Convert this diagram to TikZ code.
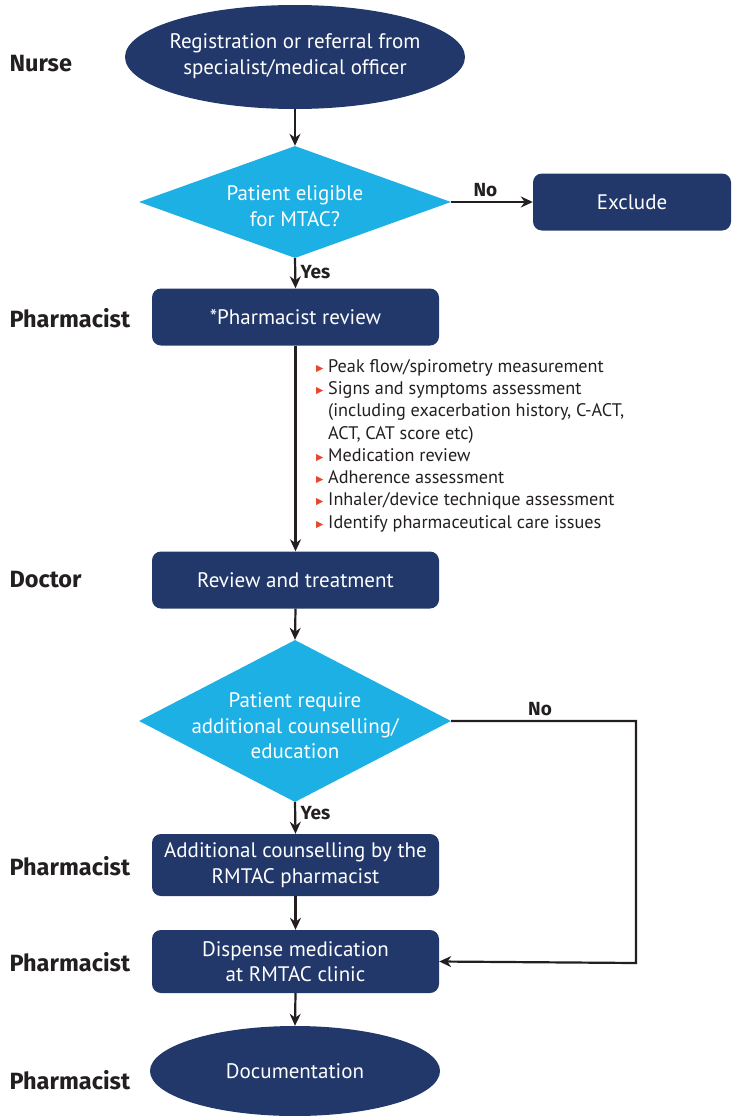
\documentclass[tikz,border=0pt]{standalone}
\usepackage{fontspec}
\usetikzlibrary{shapes.geometric,arrows.meta}
\setmainfont{PT Sans}
\newfontfamily\boxfont{PT Sans}
\newfontfamily\rolefont{Fira Sans}[BoldFont={Fira Sans Bold}]
\newfontfamily\symfont{DejaVu Sans}
\definecolor{navy}{HTML}{22386B}
\definecolor{cyanfill}{HTML}{1CB0E4}
\definecolor{bulred}{HTML}{E8452C}
\definecolor{ink}{HTML}{231F20}
\newcommand\bul{\makebox[12pt][l]{\raisebox{1pt}{\textcolor{bulred}{\symfont\fontsize{9.5}{9.5}\selectfont ▶}}}}
\newcommand\bulsp{\hspace*{12pt}}
\tikzset{
  procbox/.style={draw=none,fill=navy,rounded corners=9pt,text=white,
    minimum width=287pt,minimum height=57pt,align=center,inner sep=0pt,
    font=\boxfont\fontsize{21}{25.5}\selectfont},
  termbox/.style={ellipse,fill=navy,inner sep=0pt},
  decbox/.style={diamond,fill=cyanfill,inner sep=0pt},
  intext/.style={text=white,align=center,inner sep=0pt,font=\boxfont\fontsize{21}{25.5}\selectfont},
  role/.style={anchor=west,font=\rolefont\bfseries\fontsize{23.5}{26}\selectfont,text=ink},
  flow/.style={draw=ink,line width=2.2pt,-{Stealth[length=12pt,width=11pt]}},
  yesno/.style={font=\rolefont\bfseries\fontsize{19}{22}\selectfont,text=ink},
}
\begin{document}
\begin{tikzpicture}[x=1pt,y=-1pt]
\useasboundingbox (0,0) rectangle (731,1116);
% nodes
\node[termbox,minimum width=340pt,minimum height=104pt] (start) at (295,57) {};
\node[intext] (startt) at (295,56) {Registration or referral from\\specialist/medical officer};
\node[decbox,minimum width=312pt,minimum height=112pt] (d1) at (295,202) {};
\node[intext] (d1t) at (295,206) {Patient eligible\\for MTAC?};
\node[procbox,minimum width=198pt] (excl) at (632,202) {Exclude};
\node[procbox] (prev) at (295.5,317) {*Pharmacist review};
\node[procbox] (rev) at (295.5,580) {Review and treatment};
\node[decbox,minimum width=312pt,minimum height=162pt] (d2) at (295,721) {};
\node[intext] (d2t) at (295,726) {Patient require\\additional counselling/\\education};
\node[procbox,minimum height=62pt] (couns) at (295.5,865) {Additional counselling by the\\RMTAC pharmacist};
\node[procbox,minimum height=63pt] (disp) at (295.5,961.5) {Dispense medication\\at RMTAC clinic};
\node[termbox,minimum width=290pt,minimum height=90pt] (doc) at (295,1071) {};
\node[intext] (doct) at (295,1071) {Documentation};
% roles
\node[role] (r1) at (6,64) {Nurse};
\node[role] (r2) at (6,318) {Pharmacist};
\node[role] (r3) at (6,580) {Doctor};
\node[role] (r4) at (6,866) {Pharmacist};
\node[role] (r5) at (6,962) {Pharmacist};
\node[role] (r6) at (6,1080) {Pharmacist};
% bullet list
\node[anchor=north west,align=left,inner sep=0pt,font=\fontsize{18.2}{22.3}\selectfont,text=ink] (list) at (316,359)
 {\bul Peak flow/spirometry measurement\\
  \bul Signs and symptoms assessment\\
  \bulsp(including exacerbation history, C-ACT,\\
  \bulsp ACT, CAT score etc)\\
  \bul Medication review\\
  \bul Adherence assessment\\
  \bul Inhaler/device technique assessment\\
  \bul Identify pharmaceutical care issues};
% connectors
\draw[flow] (start.south) -- (d1.north);
\draw[flow] (d1.east) -- node[yesno,above,pos=0.42,yshift=1pt] {No} (excl.west);
\draw[flow] (d1.south) -- node[yesno,right,pos=0.45,xshift=1pt] {Yes} (prev.north);
\draw[flow] (prev.south) -- (rev.north);
\draw[flow] (rev.south) -- (d2.north);
\draw[flow] (d2.south) -- node[yesno,right,pos=0.35,xshift=1pt] {Yes} (couns.north);
\draw[flow] (couns.south) -- (disp.north);
\draw[flow] (disp.south) -- (doc.north);
\coordinate (c1) at (636,721);
\coordinate (c2) at (636,963);
\draw[flow] (d2.east) -- (c1) -- (c2) -- (disp.east);
\node[yesno] (no2) at (540,709) {No};
\end{tikzpicture}
\end{document}
